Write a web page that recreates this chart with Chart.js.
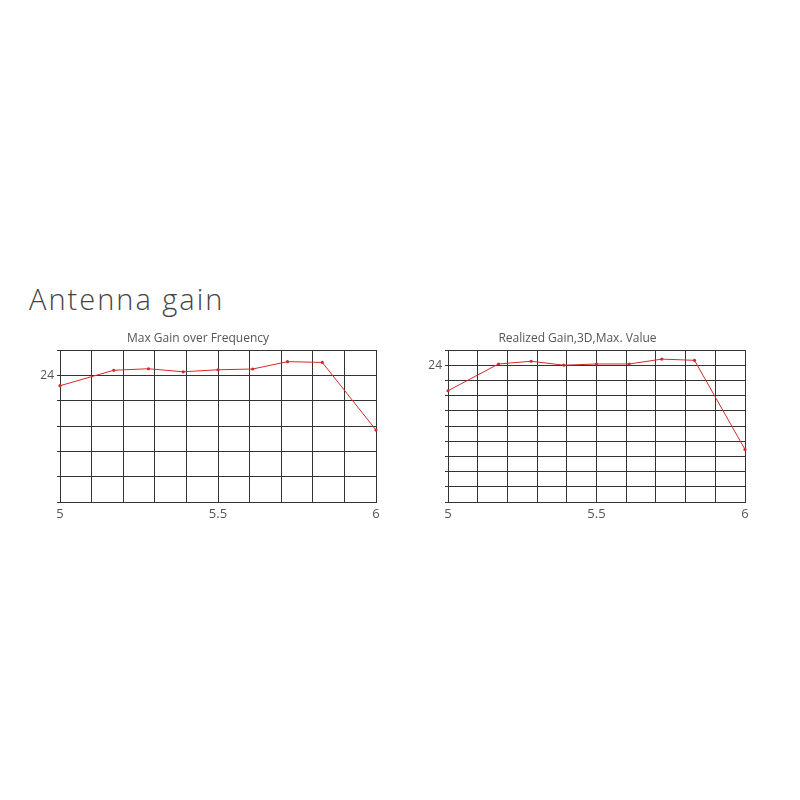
<!DOCTYPE html>
<html>
<head>
<meta charset="utf-8">
<script src="https://cdn.jsdelivr.net/npm/chart.js@4/dist/chart.umd.min.js"></script>
<style>
  body { margin: 0; background: #fff; width: 800px; height: 800px; position: relative; overflow: hidden; }
  h1 { position: absolute; left: 29px; top: 279px; margin: 0; line-height: 1; font: 300 29px "Open Sans", sans-serif; letter-spacing: 2px; color: #444; }
  .box { position: absolute; top: 325px; height: 200px; }
</style>
</head>
<body>
<h1>Antenna gain</h1>
<div class="box" style="left:20px;width:370px"><canvas id="gain-chart"></canvas></div>
<div class="box" style="left:410px;width:350px"><canvas id="realized-chart"></canvas></div>
<script>
// Data
const freqs = [5.0, 5.17, 5.28, 5.39, 5.5, 5.61, 5.72, 5.83, 6.0];
const maxGain = [23.59, 24.2, 24.26, 24.14, 24.22, 24.25, 24.54, 24.51, 21.84];
const realizedGain = [23.16, 24.04, 24.13, 24.0, 24.04, 24.04, 24.2, 24.16, 21.23];
const xTickLabels = [5, 5.5, 6];
const yTickLabels = [24];

const red = '#d32a2a';
const gridColor = '#333';
const textColor = '#555';
const fontFamily = '"Open Sans", sans-serif';

function labelIn(list, v) {
  return list.some(t => Math.abs(t - v) < 1e-6) ? String(v) : '';
}

function makeChart(id, title, values, yMin, yMax, yStep, yWidth, rightPad) {
  const ctx = document.getElementById(id).getContext('2d');
  return new Chart(ctx, {
    type: 'line',
    data: {
      datasets: [{
        data: freqs.map((f, i) => ({ x: f, y: values[i] })),
        borderColor: red,
        backgroundColor: red,
        borderWidth: 1,
        pointRadius: 1.6,
        pointBorderWidth: 0,
        tension: 0,
        clip: false
      }]
    },
    options: {
      responsive: true,
      maintainAspectRatio: false,
      animation: false,
      layout: { padding: { top: 0, right: rightPad, bottom: 0, left: 0 } },
      plugins: {
        legend: { display: false },
        tooltip: { enabled: false },
        title: {
          display: true,
          text: title,
          color: textColor,
          font: { family: fontFamily, size: 12, weight: 'normal', lineHeight: 1.2 },
          padding: { top: 6, bottom: 4.6 }
        }
      },
      scales: {
        x: {
          type: 'linear',
          min: 5,
          max: 6,
          border: { color: gridColor, width: 1 },
          grid: { color: gridColor, lineWidth: 1, drawTicks: false },
          ticks: {
            stepSize: 0.1,
            autoSkip: false,
            maxRotation: 0,
            padding: 4,
            color: textColor,
            font: { family: fontFamily, size: 13 },
            callback: v => labelIn(xTickLabels, Math.round(v * 100) / 100)
          },
          afterFit: s => { s.height = 23; }
        },
        y: {
          min: yMin,
          max: yMax,
          border: { color: gridColor, width: 1 },
          grid: { color: gridColor, lineWidth: 1, drawTicks: true, tickLength: 3 },
          ticks: {
            stepSize: yStep,
            autoSkip: false,
            padding: 3,
            color: textColor,
            font: { family: fontFamily, size: 12 },
            callback: v => labelIn(yTickLabels, Math.round(v * 100) / 100)
          },
          afterFit: s => { s.width = yWidth; }
        }
      }
    }
  });
}

makeChart('gain-chart', 'Max Gain over Frequency', maxGain, 19, 25, 1, 40, 14);
makeChart('realized-chart', 'Realized Gain,3D,Max. Value', realizedGain, 19.5, 24.5, 0.5, 38, 15);
</script>
</body>
</html>
